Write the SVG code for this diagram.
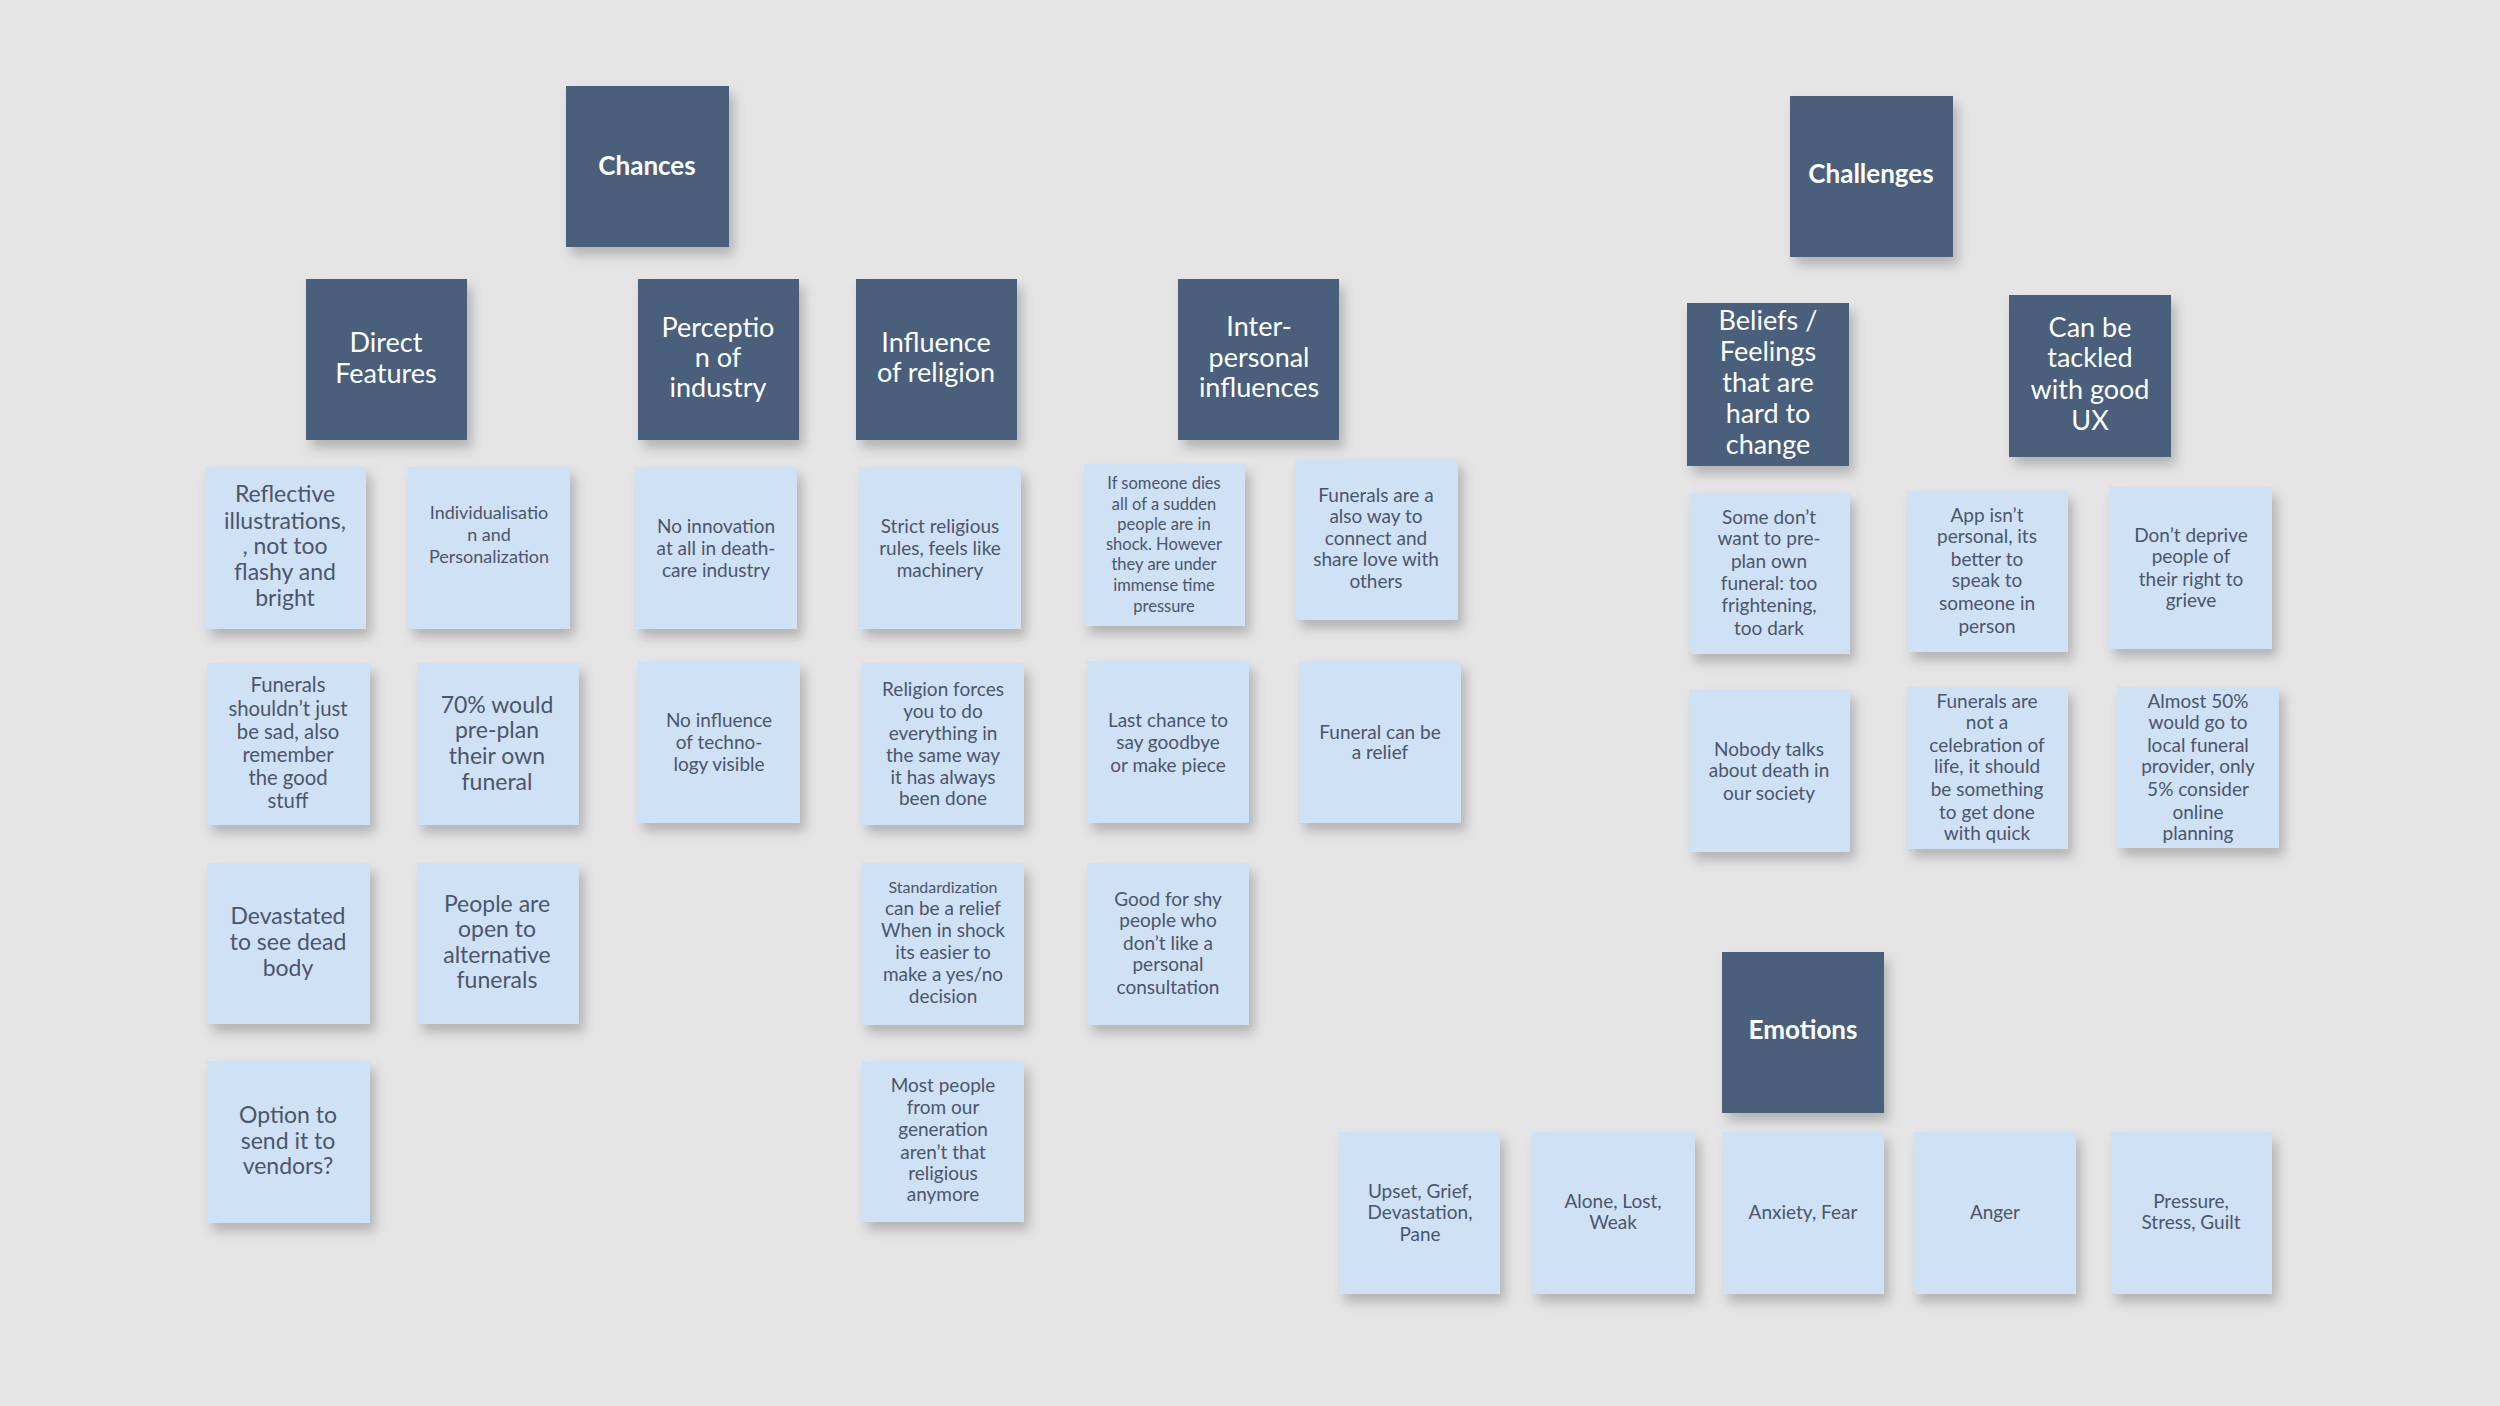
<svg xmlns="http://www.w3.org/2000/svg" width="2500" height="1406" viewBox="0 0 2500 1406">
<defs>
<filter id="sh" x="-20%" y="-20%" width="150%" height="150%">
<feDropShadow dx="5" dy="8" stdDeviation="6" flood-color="#000" flood-opacity="0.22"/>
</filter>
<style>
.hd{fill:#4a5e7c;filter:url(#sh)}
.nt{fill:#cfe1f5;filter:url(#sh)}
.ht{font-family:Lato,"Open Sans","Liberation Sans",sans-serif;fill:#ffffff;font-size:27px;text-anchor:middle}
.hb{font-weight:bold;font-size:26px}
.tt{font-family:Lato,"Open Sans","Liberation Sans",sans-serif;fill:#4b566b;text-anchor:middle;font-size:19px}
.s22{font-size:23px}
.s19{font-size:20.3px}
.s18{font-size:18px}
.s15{font-size:16.5px}
.s14{font-size:16px}
</style>
</defs>
<rect width="2500" height="1406" fill="#e5e5e5"/>
<g id="connectors"/>
<g id="chances"><rect class="hd" x="566" y="86" width="163" height="161"/><text class="ht hb" x="647" y="175">Chances</text></g>
<g id="direct-features"><rect class="hd" x="306" y="279" width="161" height="161"/><text class="ht" x="386" y="352">Direct</text><text class="ht" x="386" y="383">Features</text></g>
<g id="perception"><rect class="hd" x="638" y="279" width="161" height="161"/><text class="ht" x="718" y="337">Perceptio</text><text class="ht" x="718" y="367">n of</text><text class="ht" x="718" y="397">industry</text></g>
<g id="religion"><rect class="hd" x="856" y="279" width="161" height="161"/><text class="ht" x="936" y="352">Influence</text><text class="ht" x="936" y="382">of religion</text></g>
<g id="interpersonal"><rect class="hd" x="1178" y="279" width="161" height="161"/><text class="ht" x="1259" y="336">Inter-</text><text class="ht" x="1259" y="367">personal</text><text class="ht" x="1259" y="397">influences</text></g>
<g id="challenges"><rect class="hd" x="1790" y="96" width="163" height="161"/><text class="ht hb" x="1871" y="183">Challenges</text></g>
<g id="beliefs"><rect class="hd" x="1687" y="303" width="162" height="163"/><text class="ht" x="1768" y="330">Beliefs /</text><text class="ht" x="1768" y="361">Feelings</text><text class="ht" x="1768" y="392">that are</text><text class="ht" x="1768" y="423">hard to</text><text class="ht" x="1768" y="454">change</text></g>
<g id="tackled"><rect class="hd" x="2009" y="295" width="162" height="162"/><text class="ht" x="2090" y="337">Can be</text><text class="ht" x="2090" y="367">tackled</text><text class="ht" x="2090" y="399">with good</text><text class="ht" x="2090" y="430">UX</text></g>
<g id="emotions"><rect class="hd" x="1722" y="952" width="162" height="161"/><text class="ht hb" x="1803" y="1039">Emotions</text></g>

<g id="reflective"><rect class="nt" x="205" y="467" width="161" height="162"/><text class="tt s22" x="285"><tspan x="285" y="502">Reflective</tspan><tspan x="285" y="529">illustrations,</tspan><tspan x="285" y="554">, not too</tspan><tspan x="285" y="580">flashy and</tspan><tspan x="285" y="606">bright</tspan></text></g>
<g id="individualisation"><rect class="nt" x="408" y="467" width="162" height="162"/><text class="tt s18" x="489"><tspan x="489" y="519">Individualisatio</tspan><tspan x="489" y="541">n and</tspan><tspan x="489" y="563">Personalization</tspan></text></g>
<g id="no-innovation"><rect class="nt" x="635" y="467" width="162" height="162"/><text class="tt" x="716"><tspan x="716" y="533">No innovation</tspan><tspan x="716" y="555">at all in death-</tspan><tspan x="716" y="577">care industry</tspan></text></g>
<g id="strict"><rect class="nt" x="859" y="467" width="162" height="162"/><text class="tt" x="940"><tspan x="940" y="533">Strict religious</tspan><tspan x="940" y="555">rules, feels like</tspan><tspan x="940" y="577">machinery</tspan></text></g>
<g id="someone-dies"><rect class="nt" x="1084" y="464" width="161" height="162"/><text class="tt s15" x="1164"><tspan x="1164" y="489">If someone dies</tspan><tspan x="1164" y="510">all of a sudden</tspan><tspan x="1164" y="530">people are in</tspan><tspan x="1164" y="550">shock. However</tspan><tspan x="1164" y="570">they are under</tspan><tspan x="1164" y="591">immense time</tspan><tspan x="1164" y="612">pressure</tspan></text></g>
<g id="funerals-also"><rect class="nt" x="1295" y="459" width="163" height="161"/><text class="tt" x="1376"><tspan x="1376" y="502">Funerals are a</tspan><tspan x="1376" y="523">also way to</tspan><tspan x="1376" y="545">connect and</tspan><tspan x="1376" y="566">share love with</tspan><tspan x="1376" y="588">others</tspan></text></g>
<g id="shouldnt"><rect class="nt" x="207" y="663" width="163" height="162"/><text class="tt s19" x="288"><tspan x="288" y="692">Funerals</tspan><tspan x="288" y="716">shouldn’t just</tspan><tspan x="288" y="739">be sad, also</tspan><tspan x="288" y="762">remember</tspan><tspan x="288" y="785">the good</tspan><tspan x="288" y="808">stuff</tspan></text></g>
<g id="seventy"><rect class="nt" x="417" y="663" width="162" height="162"/><text class="tt s22" x="497"><tspan x="497" y="713">70% would</tspan><tspan x="497" y="738">pre-plan</tspan><tspan x="497" y="764">their own</tspan><tspan x="497" y="790">funeral</tspan></text></g>
<g id="no-influence"><rect class="nt" x="638" y="661" width="162" height="162"/><text class="tt" x="719"><tspan x="719" y="727">No influence</tspan><tspan x="719" y="749">of techno-</tspan><tspan x="719" y="771">logy visible</tspan></text></g>
<g id="religion-forces"><rect class="nt" x="862" y="663" width="162" height="162"/><text class="tt" x="943"><tspan x="943" y="696">Religion forces</tspan><tspan x="943" y="718">you to do</tspan><tspan x="943" y="740">everything in</tspan><tspan x="943" y="762">the same way</tspan><tspan x="943" y="784">it has always</tspan><tspan x="943" y="805">been done</tspan></text></g>
<g id="last-chance"><rect class="nt" x="1087" y="661" width="162" height="162"/><text class="tt" x="1168"><tspan x="1168" y="727">Last chance to</tspan><tspan x="1168" y="749">say goodbye</tspan><tspan x="1168" y="772">or make piece</tspan></text></g>
<g id="relief"><rect class="nt" x="1299" y="661" width="162" height="162"/><text class="tt" x="1380"><tspan x="1380" y="739">Funeral can be</tspan><tspan x="1380" y="759">a relief</tspan></text></g>
<g id="devastated"><rect class="nt" x="207" y="863" width="163" height="161"/><text class="tt s22" x="288"><tspan x="288" y="924">Devastated</tspan><tspan x="288" y="950">to see dead</tspan><tspan x="288" y="976">body</tspan></text></g>
<g id="open"><rect class="nt" x="417" y="863" width="162" height="161"/><text class="tt s22" x="497"><tspan x="497" y="912">People are</tspan><tspan x="497" y="937">open to</tspan><tspan x="497" y="963">alternative</tspan><tspan x="497" y="988">funerals</tspan></text></g>
<g id="standardization"><rect class="nt" x="862" y="863" width="162" height="162"/><text class="tt" x="943"><tspan class="s14" x="943" y="893">Standardization</tspan><tspan x="943" y="915">can be a relief</tspan><tspan x="943" y="937">When in shock</tspan><tspan x="943" y="959">its easier to</tspan><tspan x="943" y="981">make a yes/no</tspan><tspan x="943" y="1003">decision</tspan></text></g>
<g id="shy"><rect class="nt" x="1087" y="863" width="162" height="162"/><text class="tt" x="1168"><tspan x="1168" y="906">Good for shy</tspan><tspan x="1168" y="927">people who</tspan><tspan x="1168" y="950">don’t like a</tspan><tspan x="1168" y="971">personal</tspan><tspan x="1168" y="994">consultation</tspan></text></g>
<g id="option"><rect class="nt" x="207" y="1061" width="163" height="162"/><text class="tt s22" x="288"><tspan x="288" y="1123">Option to</tspan><tspan x="288" y="1149">send it to</tspan><tspan x="288" y="1174">vendors?</tspan></text></g>
<g id="most-people"><rect class="nt" x="862" y="1061" width="162" height="161"/><text class="tt" x="943"><tspan x="943" y="1092">Most people</tspan><tspan x="943" y="1114">from our</tspan><tspan x="943" y="1136">generation</tspan><tspan x="943" y="1159">aren’t that</tspan><tspan x="943" y="1180">religious</tspan><tspan x="943" y="1201">anymore</tspan></text></g>
<g id="some-dont"><rect class="nt" x="1689" y="493" width="161" height="161"/><text class="tt" x="1769"><tspan x="1769" y="524">Some don’t</tspan><tspan x="1769" y="545">want to pre-</tspan><tspan x="1769" y="568">plan own</tspan><tspan x="1769" y="590">funeral: too</tspan><tspan x="1769" y="612">frightening,</tspan><tspan x="1769" y="635">too dark</tspan></text></g>
<g id="app-isnt"><rect class="nt" x="1907" y="491" width="161" height="161"/><text class="tt" x="1987"><tspan x="1987" y="522">App isn’t</tspan><tspan x="1987" y="543">personal, its</tspan><tspan x="1987" y="566">better to</tspan><tspan x="1987" y="587">speak to</tspan><tspan x="1987" y="610">someone in</tspan><tspan x="1987" y="633">person</tspan></text></g>
<g id="deprive"><rect class="nt" x="2109" y="487" width="163" height="162"/><text class="tt" x="2191"><tspan x="2191" y="542">Don’t deprive</tspan><tspan x="2191" y="563">people of</tspan><tspan x="2191" y="586">their right to</tspan><tspan x="2191" y="607">grieve</tspan></text></g>
<g id="nobody"><rect class="nt" x="1689" y="690" width="161" height="162"/><text class="tt" x="1769"><tspan x="1769" y="756">Nobody talks</tspan><tspan x="1769" y="777">about death in</tspan><tspan x="1769" y="800">our society</tspan></text></g>
<g id="not-celebration"><rect class="nt" x="1907" y="687" width="161" height="162"/><text class="tt" x="1987"><tspan x="1987" y="708">Funerals are</tspan><tspan x="1987" y="729">not a</tspan><tspan x="1987" y="752">celebration of</tspan><tspan x="1987" y="773">life, it should</tspan><tspan x="1987" y="796">be something</tspan><tspan x="1987" y="819">to get done</tspan><tspan x="1987" y="840">with quick</tspan></text></g>
<g id="almost"><rect class="nt" x="2117" y="687" width="162" height="161"/><text class="tt" x="2198"><tspan x="2198" y="708">Almost 50%</tspan><tspan x="2198" y="729">would go to</tspan><tspan x="2198" y="752">local funeral</tspan><tspan x="2198" y="773">provider, only</tspan><tspan x="2198" y="796">5% consider</tspan><tspan x="2198" y="819">online</tspan><tspan x="2198" y="840">planning</tspan></text></g>
<g id="upset"><rect class="nt" x="1339" y="1132" width="161" height="162"/><text class="tt" x="1420"><tspan x="1420" y="1198">Upset, Grief,</tspan><tspan x="1420" y="1219">Devastation,</tspan><tspan x="1420" y="1241">Pane</tspan></text></g>
<g id="alone"><rect class="nt" x="1532" y="1132" width="163" height="162"/><text class="tt" x="1613"><tspan x="1613" y="1208">Alone, Lost,</tspan><tspan x="1613" y="1229">Weak</tspan></text></g>
<g id="anxiety"><rect class="nt" x="1723" y="1132" width="161" height="162"/><text class="tt" x="1803" y="1219">Anxiety, Fear</text></g>
<g id="anger"><rect class="nt" x="1913" y="1132" width="163" height="162"/><text class="tt" x="1995" y="1219">Anger</text></g>
<g id="pressure"><rect class="nt" x="2111" y="1132" width="161" height="162"/><text class="tt" x="2191"><tspan x="2191" y="1208">Pressure,</tspan><tspan x="2191" y="1229">Stress, Guilt</tspan></text></g>
</svg>
